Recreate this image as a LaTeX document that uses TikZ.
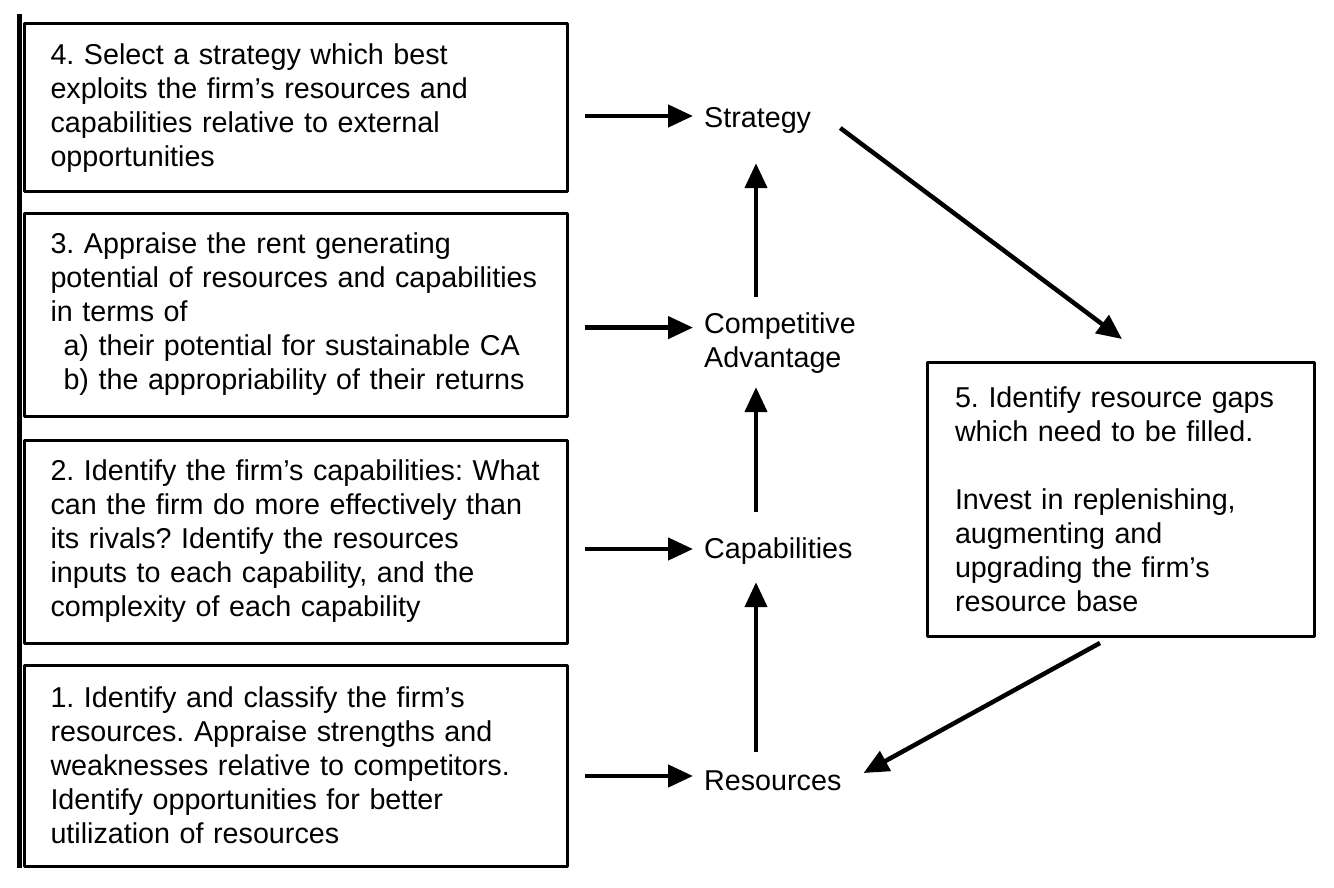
\documentclass[tikz,border=0pt]{standalone}
\usepackage{fontspec}
\setmainfont{Liberation Sans}
\usetikzlibrary{arrows.meta,calc}

\begin{document}
\begin{tikzpicture}[x=1pt, y=-1pt, font=\fontsize{28.7}{34}\selectfont\frenchspacing, line join=round,
	stepbox/.style={draw, line width=3pt, outer sep=0pt, anchor=north west, text width=490pt, inner xsep=26.5pt, inner ysep=0pt, align=left},
	tag/.style={inner sep=0pt, anchor=base west, text height=20.5pt, text depth=6pt},
	arr/.style={line width=4.5pt, -{Triangle[length=25pt,width=22pt]}}]
	\useasboundingbox (0,0) rectangle (1334,888);
	\draw[line width=5pt] (19,14)--(19,868);
	% the four steps on the left
	\node[stepbox, minimum height=168pt] (box4) at (24,24) {4. Select a strategy which best\\exploits the firm’s resources and\\capabilities relative to external\\opportunities};
	\node[stepbox, minimum height=203pt] (box3) at (24,213) {3. Appraise the rent generating\\potential of resources and capabilities\\in terms of\\\hspace*{13pt}a) their potential for sustainable CA\\\hspace*{13pt}b) the appropriability of their returns};
	\node[stepbox, minimum height=203pt] (box2) at (24,440) {2. Identify the firm’s capabilities: What\\can the firm do more effectively than\\its rivals? Identify the resources\\inputs to each capability, and the\\complexity of each capability};
	\node[stepbox, minimum height=201pt] (box1) at (24,665) {1. Identify and classify the firm’s\\resources. Appraise strengths and\\weaknesses relative to competitors.\\Identify opportunities for better\\utilization of resources};
	\node[stepbox, text width=331pt, inner xsep=28pt, minimum height=274pt] (box5) at (927,362) {5. Identify resource gaps\\which need to be filled.\\[34pt]Invest in replenishing,\\augmenting and\\upgrading the firm’s\\resource base};
	% middle column
	\node[tag] (strat) at (704,128) {Strategy};
	\node[inner sep=0pt, anchor=north west, align=left] (ca) at (704,313) {Competitive\\Advantage};
	\node[tag] (cap) at (704,558) {Capabilities};
	\node[tag] (res) at (704,790) {Resources};
	\draw[arr] ($(strat.west -| box4.east)+(18,-4.75)$)--($(strat.west)+(-11,-4.75)$);
	\draw[arr] ($(ca.west -| box3.east)+(18,-16)$)--($(ca.west)+(-11,-16)$);
	\draw[arr] ($(cap.west -| box2.east)+(18,-1.75)$)--($(cap.west)+(-11,-1.75)$);
	\draw[arr] ($(res.west -| box1.east)+(18,-6.75)$)--($(res.west)+(-11,-6.75)$);
	\draw[arr] ($(res.north west)+(52,-17.5)$)--($(cap.south west)+(52,18)$);
	\draw[arr] ($(cap.north west)+(52,-25.5)$)--($(ca.south west)+(52,13)$);
	\draw[arr] ($(ca.north west)+(52,-16)$)--($(strat.south west)+(52,29)$);
	% the loop through step 5
	\draw[arr] ($(strat.east)+(29,7.25)$)--($(box5.north)+(1.5,-23)$);
	\draw[arr] ($(box5.south)+(-20.5,7)$)--($(res.east)+(22,-9.75)$);
\end{tikzpicture}
\end{document}
